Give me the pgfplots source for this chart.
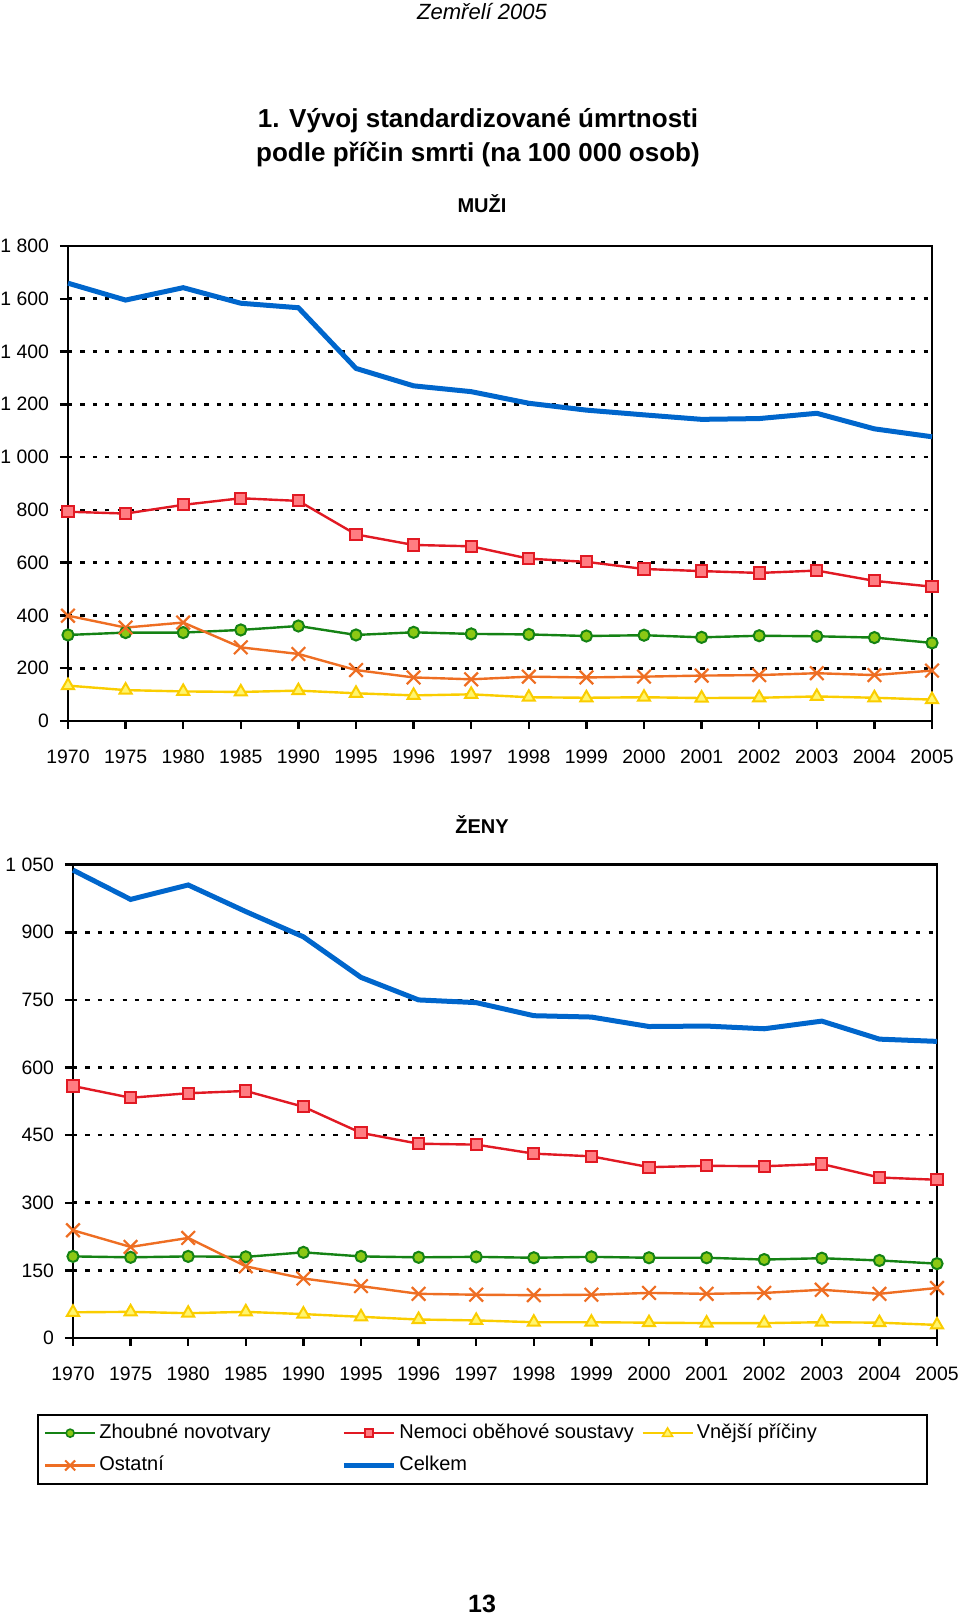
\documentclass[border=0pt]{standalone}
\usepackage{fontspec}
\setmainfont{Liberation Sans}
\usepackage{pgfplots}
\pgfplotsset{compat=1.18}
\definecolor{cBlue}{RGB}{0,102,204}
\definecolor{cRed}{RGB}{225,25,35}
\definecolor{cRedFill}{RGB}{255,125,130}
\definecolor{cGreen}{RGB}{20,130,20}
\definecolor{cGreenFill}{RGB}{140,200,20}
\definecolor{cOrange}{RGB}{238,110,35}
\definecolor{cYellow}{RGB}{250,205,0}
\definecolor{cYellowFill}{RGB}{255,245,110}

\pgfplotsset{
  myaxis/.style={
    scale only axis,
    width=432pt,
    xmin=0, xmax=15,
    xtick={0,...,15},
    xticklabels={1970,1975,1980,1985,1990,1995,1996,1997,1998,1999,2000,2001,2002,2003,2004,2005},
    tick label style={font=\fontsize{9.7}{11}\selectfont},
    xticklabel style={yshift=-7pt},
    yticklabel style={xshift=-2pt},
    tick align=outside,
    major tick length=4pt,
    tick style={black, line width=1.2pt},
    xtick pos=bottom, ytick pos=left,
    axis line style={black, line width=1.3pt},
    ymajorgrids,
    grid style={black, line width=1.3pt, dash pattern=on 2.1pt off 4.1pt},
    clip=false,
  },
  sZh/.style={color=cGreen, line width=1.2pt, mark=*, mark size=2.8pt, mark options={fill=cGreenFill, draw=cGreen, line width=1pt}},
  sNe/.style={color=cRed, line width=1.2pt, mark=square*, mark size=2.8pt, mark options={fill=cRedFill, draw=cRed, line width=1pt}},
  sVn/.style={color=cYellow, line width=1.2pt, mark=triangle*, mark size=3.5pt, mark options={fill=cYellowFill, draw=cYellow, line width=1pt}},
  sOs/.style={color=cOrange, line width=1.2pt, mark=x, mark size=4.8pt, mark options={draw=cOrange, line width=1.1pt}},
  sCe/.style={color=cBlue, line width=2.5pt, mark=none},
  lZh/.style={legend image code/.code={\draw[cGreen,line width=1.2pt] (0pt,0pt) -- (25pt,0pt); \draw[fill=cGreenFill,draw=cGreen,line width=0.8pt] (12.5pt,0pt) circle (2pt);}},
  lNe/.style={legend image code/.code={\draw[cRed,line width=1.2pt] (0pt,0pt) -- (25pt,0pt); \draw[fill=cRedFill,draw=cRed,line width=0.8pt] (10.5pt,-2pt) rectangle (14.5pt,2pt);}},
  lVn/.style={legend image code/.code={\draw[cYellow,line width=1.2pt] (0pt,0pt) -- (25pt,0pt); \draw[fill=cYellowFill,draw=cYellow,line width=0.8pt] (10pt,-1.6pt) -- (15pt,-1.6pt) -- (12.5pt,2.6pt) -- cycle;}},
  lOs/.style={legend image code/.code={\draw[cOrange,line width=1.2pt] (0pt,0pt) -- (25pt,0pt); \draw[cOrange,line width=1pt] (10pt,-2.5pt) -- (15pt,2.5pt) (10pt,2.5pt) -- (15pt,-2.5pt);}},
  lCe/.style={legend image code/.code={\draw[cBlue,line width=2.5pt] (0pt,0pt) -- (25pt,0pt);}},
}

\begin{document}
\begin{tikzpicture}
\path[use as bounding box] (0,0) rectangle (480pt,807.5pt);

\node[anchor=base, font=\fontsize{11}{13}\selectfont\itshape, inner sep=0] at (241pt,797.5pt) {Zemřelí 2005};
\node[anchor=base, font=\fontsize{13}{15}\selectfont\bfseries, inner sep=0] at (239pt,743.9pt) {1. Vývoj standardizované úmrtnosti};
\node[anchor=base, font=\fontsize{13}{15}\selectfont\bfseries, inner sep=0] at (239pt,726.9pt) {podle příčin smrti (na 100 000 osob)};
\node[anchor=base, font=\fontsize{10}{12}\selectfont\bfseries, inner sep=0] at (241pt,701pt) {MUŽI};
\node[anchor=base, font=\fontsize{10}{12}\selectfont\bfseries, inner sep=0] at (241pt,390.5pt) {ŽENY};
\node[anchor=base, font=\fontsize{12.5}{14}\selectfont\bfseries, inner sep=0] at (241pt,1.5pt) {13};

% ---------- MUZI ----------
\begin{axis}[myaxis,
  at={(34pt,447pt)}, anchor=south west,
  height=237.5pt,
  ymin=0, ymax=1800,
  ytick={0,200,...,1800},
  yticklabels={0,200,400,600,800,1 000,1 200,1 400,1 600,1 800},
]
\addplot[sZh] coordinates {(0,326) (1,335) (2,335) (3,345) (4,360) (5,326) (6,336) (7,330) (8,328) (9,322) (10,325) (11,317) (12,323) (13,321) (14,316) (15,296)};
\addplot[sNe] coordinates {(0,793) (1,786) (2,819) (3,844) (4,834) (5,707) (6,667) (7,662) (8,615) (9,603) (10,576) (11,568) (12,561) (13,570) (14,531) (15,509)};
\addplot[sVn] coordinates {(0,134) (1,117) (2,112) (3,110) (4,115) (5,105) (6,97) (7,101) (8,90) (9,88) (10,90) (11,87) (12,88) (13,93) (14,88) (15,81)};
\addplot[sOs] coordinates {(0,399) (1,354) (2,373) (3,279) (4,254) (5,193) (6,165) (7,158) (8,168) (9,165) (10,168) (11,172) (12,174) (13,181) (14,174) (15,191)};
\addplot[sCe] coordinates {(0,1659) (1,1595) (2,1642) (3,1583) (4,1566) (5,1336) (6,1270) (7,1248) (8,1204) (9,1178) (10,1160) (11,1143) (12,1146) (13,1166) (14,1107) (15,1077)};
\end{axis}

% ---------- ZENY ----------
\begin{axis}[myaxis,
  at={(36.5pt,138.5pt)}, anchor=south west,
  height=236.65pt,
  ymin=0, ymax=1050,
  ytick={0,150,...,1050},
  yticklabels={0,150,300,450,600,750,900,1 050},
  legend columns=3,
  legend cell align=left,
  legend style={at={(-0.0417,-0.1606)}, anchor=north west, draw=black, line width=1pt,
    inner xsep=3pt, inner ysep=1pt, column sep=0pt, row sep=0pt,
    font=\fontsize{10}{12}\selectfont,
    nodes={text height=7.5pt, text depth=2pt, inner ysep=3.33pt, inner xsep=1.5pt}},
]
\addplot[sZh, lZh] coordinates {(0,181) (1,179) (2,181) (3,180) (4,190) (5,181) (6,179) (7,180) (8,178) (9,180) (10,178) (11,178) (12,174) (13,177) (14,172) (15,165)};
\addlegendentry{\makebox[119.5pt][l]{Zhoubné novotvary}}
\addplot[sNe, lNe] coordinates {(0,559) (1,533) (2,543) (3,548) (4,513) (5,455) (6,431) (7,429) (8,409) (9,403) (10,379) (11,382) (12,381) (13,386) (14,356) (15,351)};
\addlegendentry{\makebox[119.5pt][l]{Nemoci oběhové soustavy}}
\addplot[sVn, lVn] coordinates {(0,57) (1,58) (2,55) (3,58) (4,53) (5,47) (6,41) (7,39) (8,35) (9,35) (10,34) (11,33) (12,33) (13,35) (14,34) (15,29)};
\addlegendentry{\makebox[110.5pt][l]{Vnější příčiny}}
\addplot[sOs, lOs] coordinates {(0,239) (1,202) (2,222) (3,159) (4,132) (5,115) (6,98) (7,96) (8,95) (9,96) (10,100) (11,98) (12,100) (13,107) (14,98) (15,111)};
\addlegendentry{Ostatní}
\addplot[sCe, lCe] coordinates {(0,1038) (1,973) (2,1005) (3,946) (4,890) (5,800) (6,750) (7,744) (8,715) (9,712) (10,691) (11,692) (12,686) (13,703) (14,663) (15,658)};
\addlegendentry{Celkem}
\end{axis}
\end{tikzpicture}
\end{document}
